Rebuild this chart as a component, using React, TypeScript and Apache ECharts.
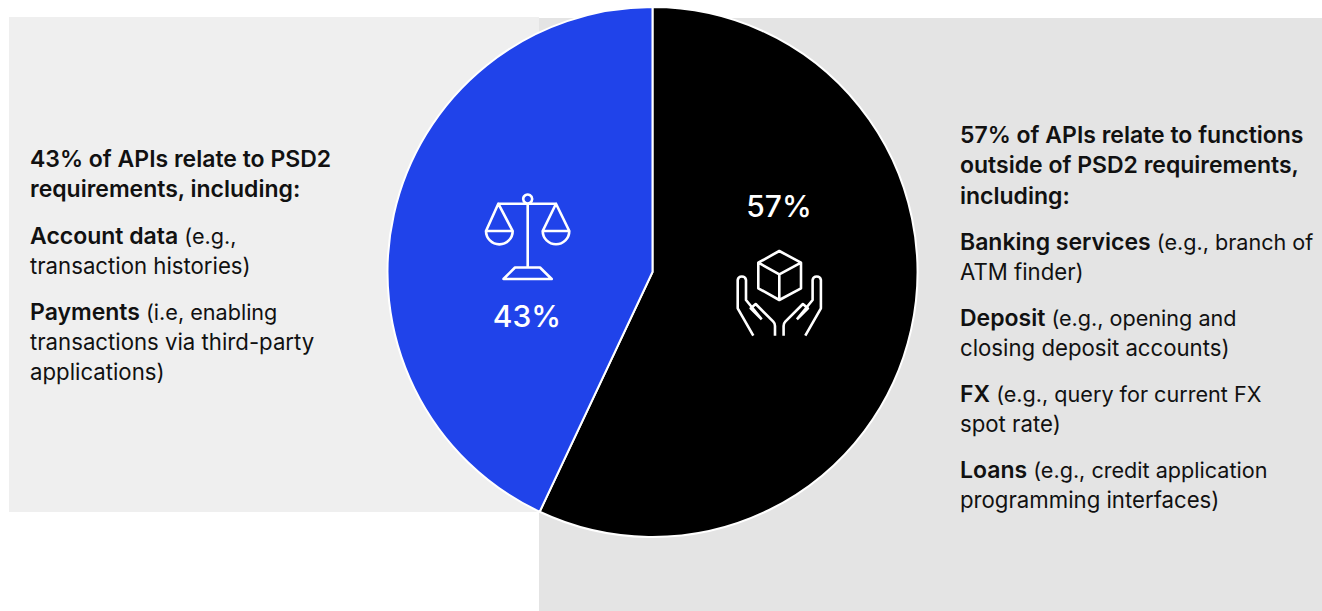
import React, { useEffect, useRef } from "react";
import * as echarts from "echarts";

const sliceNames = ["Outside PSD2", "PSD2"];
const sliceValues = [57, 43];
const sliceColors = ["#000000", "#2043ea"];
const pieLabels = ["57%", "43%"];

const leftLines = [
  "{b|43% of APIs relate to PSD2}",
  "{b|requirements, including:}",
  "{b|Account data}{p| (e.g.,}",
  "transaction histories)",
  "{b|Payments}{p| (i.e, enabling}",
  "transactions via third-party",
  "applications)",
];
const leftY = [158.5, 188.5, 235.5, 265.5, 311.5, 341.5, 371.5];

const rightLines = [
  "{b|57% of APIs relate to functions}",
  "{b|outside of PSD2 requirements,}",
  "{b|including:}",
  "{b|Banking services}{p| (e.g., branch of}",
  "ATM finder)",
  "{b|Deposit}{p| (e.g., opening and}",
  "closing deposit accounts)",
  "{b|FX}{p| (e.g., query for current FX}",
  "spot rate)",
  "{b|Loans}{p| (e.g., credit application}",
  "programming interfaces)",
];
const rightY = [134.5, 164.5, 195.5, 241.5, 271.5, 317.5, 347.5, 393.5, 423.5, 469.5, 499.5];

const FONT = "Inter";
const FS = 22.2;
const FSB = 23;
const FSP = 21.6;

const HANDS =
  "M753.3 335.7 L737.7 308.3 L737.7 280 A4.2 4.2 0 0 1 746 280 L746 300 L761.7 319.3 M761.7 319.3 L750.7 308.3 L755.7 304 L773.3 321.7 Q775 323.5 775 326 L775 335.7 " +
  "M805.3 335.7 L820.9 308.3 L820.9 280 A4.2 4.2 0 0 0 812.6 280 L812.6 300 L796.9 319.3 M796.9 319.3 L807.9 308.3 L802.9 304 L785.3 321.7 Q783.6 323.5 783.6 326 L783.6 335.7";
const CUBE =
  "M779.3 251 L801 262.7 L801 288.3 L779.3 300 L758.3 288.3 L758.3 262.7 Z M758.3 262.7 L779.3 274.3 L801 262.7 M779.3 274.3 L779.3 300";
const SCALES =
  "M498.3 203.7 L556 203.7 M527.7 203.7 L527.7 267.5 M503.5 279 L515 267.5 L540 267.5 L551.7 279 Z " +
  "M498.3 203.7 L486 231 L512.7 231 Z M486 231 A13.3 13.3 0 0 0 512.7 231 " +
  "M556 203.7 L542.7 231 L569.3 231 Z M542.7 231 A13.3 13.3 0 0 0 569.3 231";

echarts.graphic.registerShape("handsIcon", echarts.graphic.extendPath(HANDS, {}));
echarts.graphic.registerShape("cubeIcon", echarts.graphic.extendPath(CUBE, {}));
echarts.graphic.registerShape("scalesIcon", echarts.graphic.extendPath(SCALES, {}));

const textBlock = (lines: string[], ys: number[], x: number) =>
  lines.map((text, i) => ({
    type: "text",
    x,
    y: ys[i],
    z: 10,
    silent: true,
    style: {
      text,
      fill: "#111111",
      fontFamily: FONT,
      fontSize: FS,
      fontWeight: 400,
      verticalAlign: "middle",
      align: "left",
      rich: {
        b: { fontFamily: FONT, fontSize: FSB, fontWeight: 600, fill: "#111111" },
        p: { fontFamily: FONT, fontSize: FSP, fontWeight: 400, fill: "#111111" },
      },
    },
  }));

const iconStyle = { fill: "none", stroke: "#ffffff", lineWidth: 2.6, lineJoin: "round" };

export default function App() {
  const ref = useRef<HTMLDivElement>(null);
  useEffect(() => {
    document.body.style.margin = "0";
    const chart = echarts.init(ref.current!, undefined, { renderer: "svg" });
    chart.setOption({
      animation: false,
      backgroundColor: "#ffffff",
      graphic: [
        { type: "rect", z: 0, silent: true, shape: { x: 539, y: 18, width: 783, height: 593 }, style: { fill: "#e4e4e4" } },
        { type: "rect", z: 0, silent: true, shape: { x: 9, y: 17, width: 530, height: 495 }, style: { fill: "#efefef" } },
        ...textBlock(leftLines, leftY, 30),
        ...textBlock(rightLines, rightY, 960),
        { type: "scalesIcon", x: 0, y: 0, z: 10, silent: true, style: iconStyle },
        { type: "circle", z: 10, silent: true, shape: { cx: 527.7, cy: 199, r: 4.5 }, style: { fill: "#2043ea", stroke: "#ffffff", lineWidth: 2.6 } },
        { type: "cubeIcon", x: 0, y: 0, z: 10, silent: true, style: iconStyle },
        { type: "handsIcon", x: 0, y: 0, z: 10, silent: true, style: iconStyle },
        { type: "text", x: 779, y: 205.5, z: 10, silent: true, style: { text: pieLabels[0], fill: "#ffffff", fontFamily: FONT, fontSize: 30, fontWeight: 500, align: "center", verticalAlign: "middle" } },
        { type: "text", x: 527, y: 315.5, z: 10, silent: true, style: { text: pieLabels[1], fill: "#ffffff", fontFamily: FONT, fontSize: 30, fontWeight: 500, align: "center", verticalAlign: "middle" } },
      ],
      series: [
        {
          type: "pie",
          center: [652.5, 272],
          radius: [0, 265],
          startAngle: 90,
          clockwise: true,
          silent: true,
          label: { show: false },
          labelLine: { show: false },
          itemStyle: { borderColor: "#ffffff", borderWidth: 2 },
          data: sliceNames.map((name, i) => ({
            name,
            value: sliceValues[i],
            itemStyle: { color: sliceColors[i] },
          })),
        },
      ],
    });
    return () => chart.dispose();
  }, []);
  return <div ref={ref} style={{ position: "absolute", left: 0, top: 0, width: 1322, height: 611 }} />;
}
